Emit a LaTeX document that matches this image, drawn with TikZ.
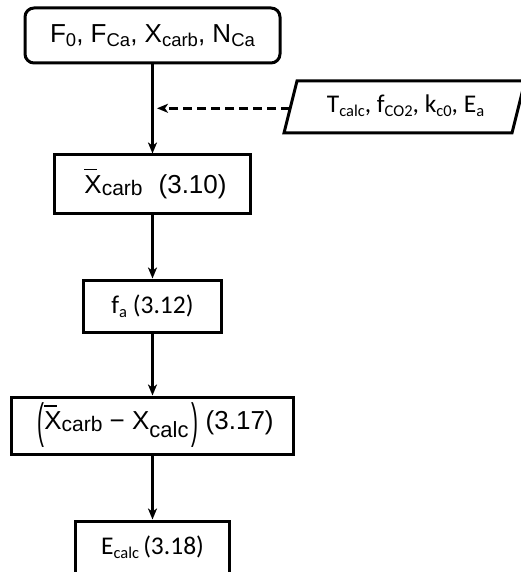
\documentclass[tikz,border=0pt]{standalone}
\usepackage{fontspec}
\setmainfont{Liberation Sans}
\newfontfamily\calib{Carlito}
\usetikzlibrary{arrows.meta}

% lowered, smaller text for indices: \lowtext{drop}{size}{text}
\newcommand{\lowtext}[3]{\raisebox{-#1}{\fontsize{#2}{#2}\selectfont #3}}
% X with a short bar over it (mean value)
\newcommand{\barX}{\rlap{\raisebox{0.9em}{\rule{0.47em}{0.05em}}}X}
% tall thin bracket for the difference term
\newcommand{\tallparen}[1]{\raisebox{-8pt}{\scalebox{0.8}[1.85]{#1}}}

\begin{document}
\begin{tikzpicture}[x=1pt, y=-1pt,
  box/.style={draw, line width=3pt, inner sep=0pt, align=center,
    font=\fontsize{26pt}{30pt}\selectfont},
  roundbox/.style={box, rounded corners=9pt, font=\fontsize{26pt}{30pt}\selectfont},
  calbox/.style={box, font=\calib\fontsize{25.5pt}{30pt}\selectfont},
  flow/.style={line width=2.6pt, -{Stealth[length=11pt, width=9pt, inset=3pt]}},
  feed/.style={flow, dash pattern=on 9pt off 5pt}]

\useasboundingbox (0,0) rectangle (521,572);

% main chain of calculation steps
\node[roundbox, minimum width=255pt, minimum height=55pt] (inp) at (152.5,35.5)
  {F\lowtext{4pt}{18.5pt}{0}, F\lowtext{4pt}{18.5pt}{Ca}, X\lowtext{4pt}{18.5pt}{carb}, N\lowtext{4pt}{18.5pt}{Ca}};

\node[box, minimum width=196pt, minimum height=58pt] (xbar) at (152.5,184)
  {\hspace{6pt}\barX\lowtext{1.5pt}{21pt}{carb}\hspace{16pt}(3.10)};

\node[calbox, minimum width=138pt, minimum height=52pt] (fa) at (152.5,306)
  {f\lowtext{4pt}{16.5pt}{a} (3.12)};

\node[box, minimum width=282pt, minimum height=57pt] (diff) at (152.5,425.5)
  {\hspace{6pt}\tallparen{(}\barX\lowtext{1.5pt}{21pt}{carb} − X\lowtext{8pt}{22pt}{calc}\hspace{3pt}\tallparen{)} (3.17)};

\node[calbox, minimum width=154pt, minimum height=53pt] (ecalc) at (152.5,547.5)
  {E\lowtext{4pt}{16.5pt}{calc}\,(3.18)};

% kinetic parameters, fed in from the side
\coordinate (pBL) at (284,133);
\coordinate (pTL) at (297,81);
\coordinate (pTR) at (525,81);
\coordinate (pBR) at (512,133);
\draw[line width=3pt] (pBL) -- (pTL) -- (pTR) -- (pBR) -- cycle;
\node[font=\calib\fontsize{25.5pt}{30pt}\selectfont, inner sep=0pt] (params) at (405.5,106)
  {T\lowtext{4pt}{16.5pt}{calc}, f\lowtext{4pt}{16.5pt}{CO2}, k\lowtext{4pt}{16.5pt}{c0}, E\lowtext{4pt}{16.5pt}{a}};

\coordinate (feedin) at (290.2,108.3);
\coordinate (tap) at (157,108.3);

% connectors
\draw[flow] (inp) -- (xbar);
\draw[feed] (feedin) -- (tap);
\draw[flow] (xbar) -- (fa);
\draw[flow] (fa) -- (diff);
\draw[flow] (diff) -- (ecalc);
\end{tikzpicture}
\end{document}
